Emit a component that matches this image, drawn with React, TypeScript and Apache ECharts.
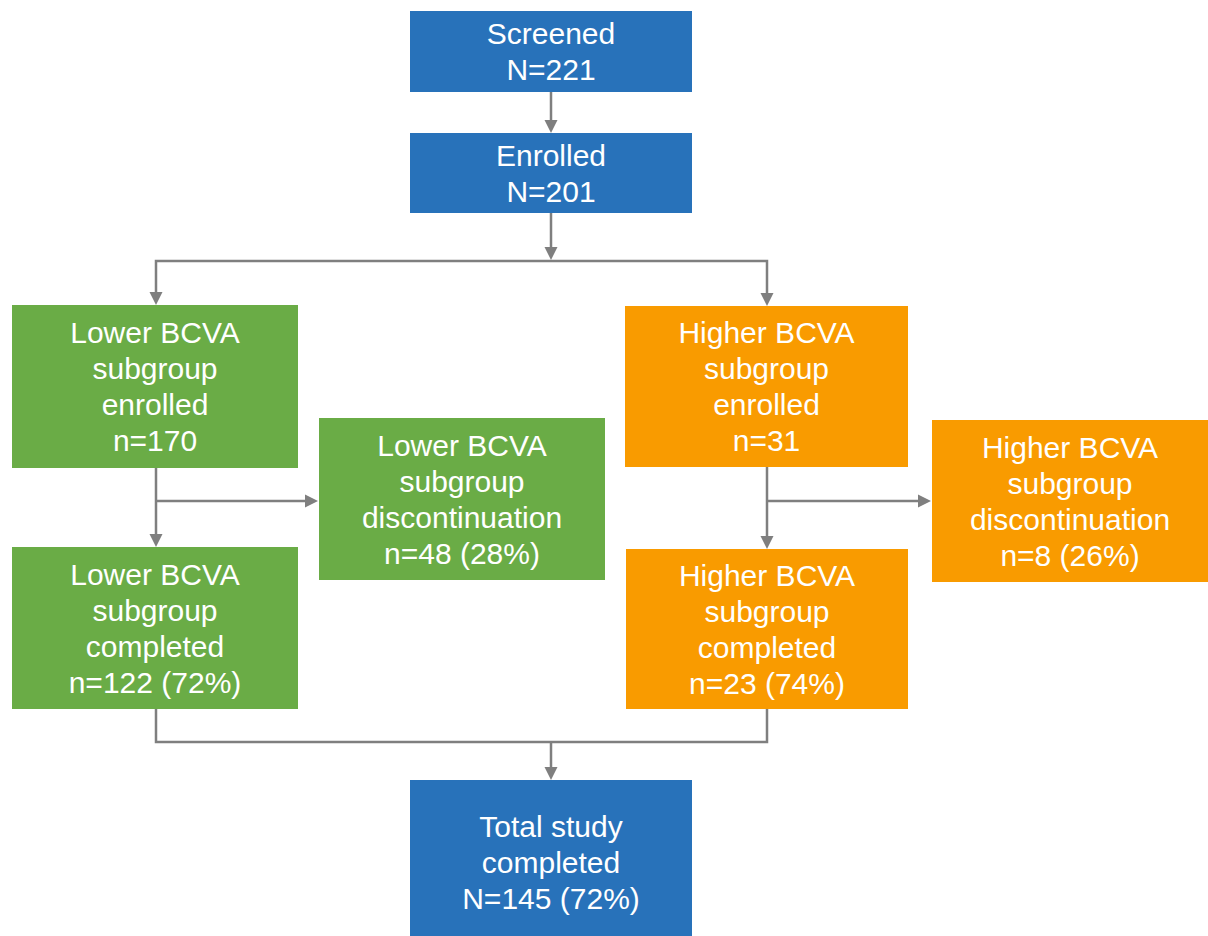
import React, { useEffect, useRef } from "react";
import * as echarts from "echarts";

// ---- data ----
const stageLabels = [
  "Screened",
  "Enrolled",
  "Lower BCVA\nsubgroup\nenrolled",
  "Lower BCVA\nsubgroup\ndiscontinuation",
  "Lower BCVA\nsubgroup\ncompleted",
  "Higher BCVA\nsubgroup\nenrolled",
  "Higher BCVA\nsubgroup\ndiscontinuation",
  "Higher BCVA\nsubgroup\ncompleted",
  "Total study\ncompleted",
];
const countPrefix = ["N", "N", "n", "n", "n", "n", "n", "n", "N"];
const counts = [221, 201, 170, 48, 122, 31, 8, 23, 145];
const percents: (number | null)[] = [null, null, null, 28, 72, null, 26, 74, 72];
const groups = ["all", "all", "lower", "lower", "lower", "higher", "higher", "higher", "all"];

// ---- layout / style ----
const boxes = [
  [410, 11, 282, 81],
  [410, 133, 282, 80],
  [12, 305, 286, 163],
  [319, 418, 286, 162],
  [12, 547, 286, 162],
  [625, 306, 283, 161],
  [932, 420, 276, 162],
  [626, 549, 282, 160],
  [410, 780, 282, 164],
];
const colors: Record<string, string> = { all: "#2872ba", lower: "#6aac46", higher: "#f99b00" };
const LINE = "#7f7f7f";

function arrowHead(x: number, y: number, dir: "down" | "right") {
  const s = 13;
  const pts =
    dir === "down"
      ? [[x - s / 2, y - s], [x + s / 2, y - s], [x, y]]
      : [[x - s, y - s / 2], [x - s, y + s / 2], [x, y]];
  return { type: "polygon", shape: { points: pts }, style: { fill: LINE }, silent: true };
}
function poly(points: number[][]) {
  return {
    type: "polyline",
    shape: { points },
    style: { stroke: LINE, lineWidth: 2.5, fill: "none" },
    silent: true,
  };
}

export default function App() {
  const ref = useRef<HTMLDivElement>(null);
  useEffect(() => {
    if (!ref.current) return;
    const chart = echarts.init(ref.current, undefined, { renderer: "svg" });
    const elements: any[] = [];

    // connectors
    elements.push(poly([[551, 92], [551, 122]]), arrowHead(551, 133, "down"));
    elements.push(poly([[551, 213], [551, 250]]), arrowHead(551, 260, "down"));
    elements.push(poly([[156, 293], [156, 261], [767, 261], [767, 294]]));
    elements.push(arrowHead(156, 305, "down"), arrowHead(767, 306, "down"));
    elements.push(poly([[156, 468], [156, 536]]), arrowHead(156, 547, "down"));
    elements.push(poly([[156, 501], [307, 501]]), arrowHead(318, 501, "right"));
    elements.push(poly([[767, 467], [767, 538]]), arrowHead(767, 549, "down"));
    elements.push(poly([[767, 501], [920, 501]]), arrowHead(931, 501, "right"));
    elements.push(poly([[156, 709], [156, 742], [767, 742], [767, 709]]));
    elements.push(poly([[551, 742], [551, 769]]), arrowHead(551, 780, "down"));

    // boxes + text
    stageLabels.forEach((label, i) => {
      const [x, y, w, h] = boxes[i];
      elements.push({
        type: "rect",
        shape: { x, y, width: w, height: h },
        style: { fill: colors[groups[i]] },
        silent: true,
      });
      const pct = percents[i];
      const countLine = `${countPrefix[i]}=${counts[i]}` + (pct != null ? ` (${pct}%)` : "");
      elements.push({
        type: "text",
        x: x + w / 2,
        y: y + h / 2,
        style: {
          text: `${label}\n${countLine}`,
          fill: "#ffffff",
          font: '30px "Liberation Sans", Arial, sans-serif',
          align: "center",
          verticalAlign: "middle",
          lineHeight: 36,
        },
        silent: true,
      });
    });

    chart.setOption({
      animation: false,
      backgroundColor: "#ffffff",
      graphic: { elements },
    });
    return () => chart.dispose();
  }, []);
  return (
    <div
      ref={ref}
      style={{ position: "absolute", left: 0, top: 0, width: 1208, height: 936 }}
    />
  );
}
